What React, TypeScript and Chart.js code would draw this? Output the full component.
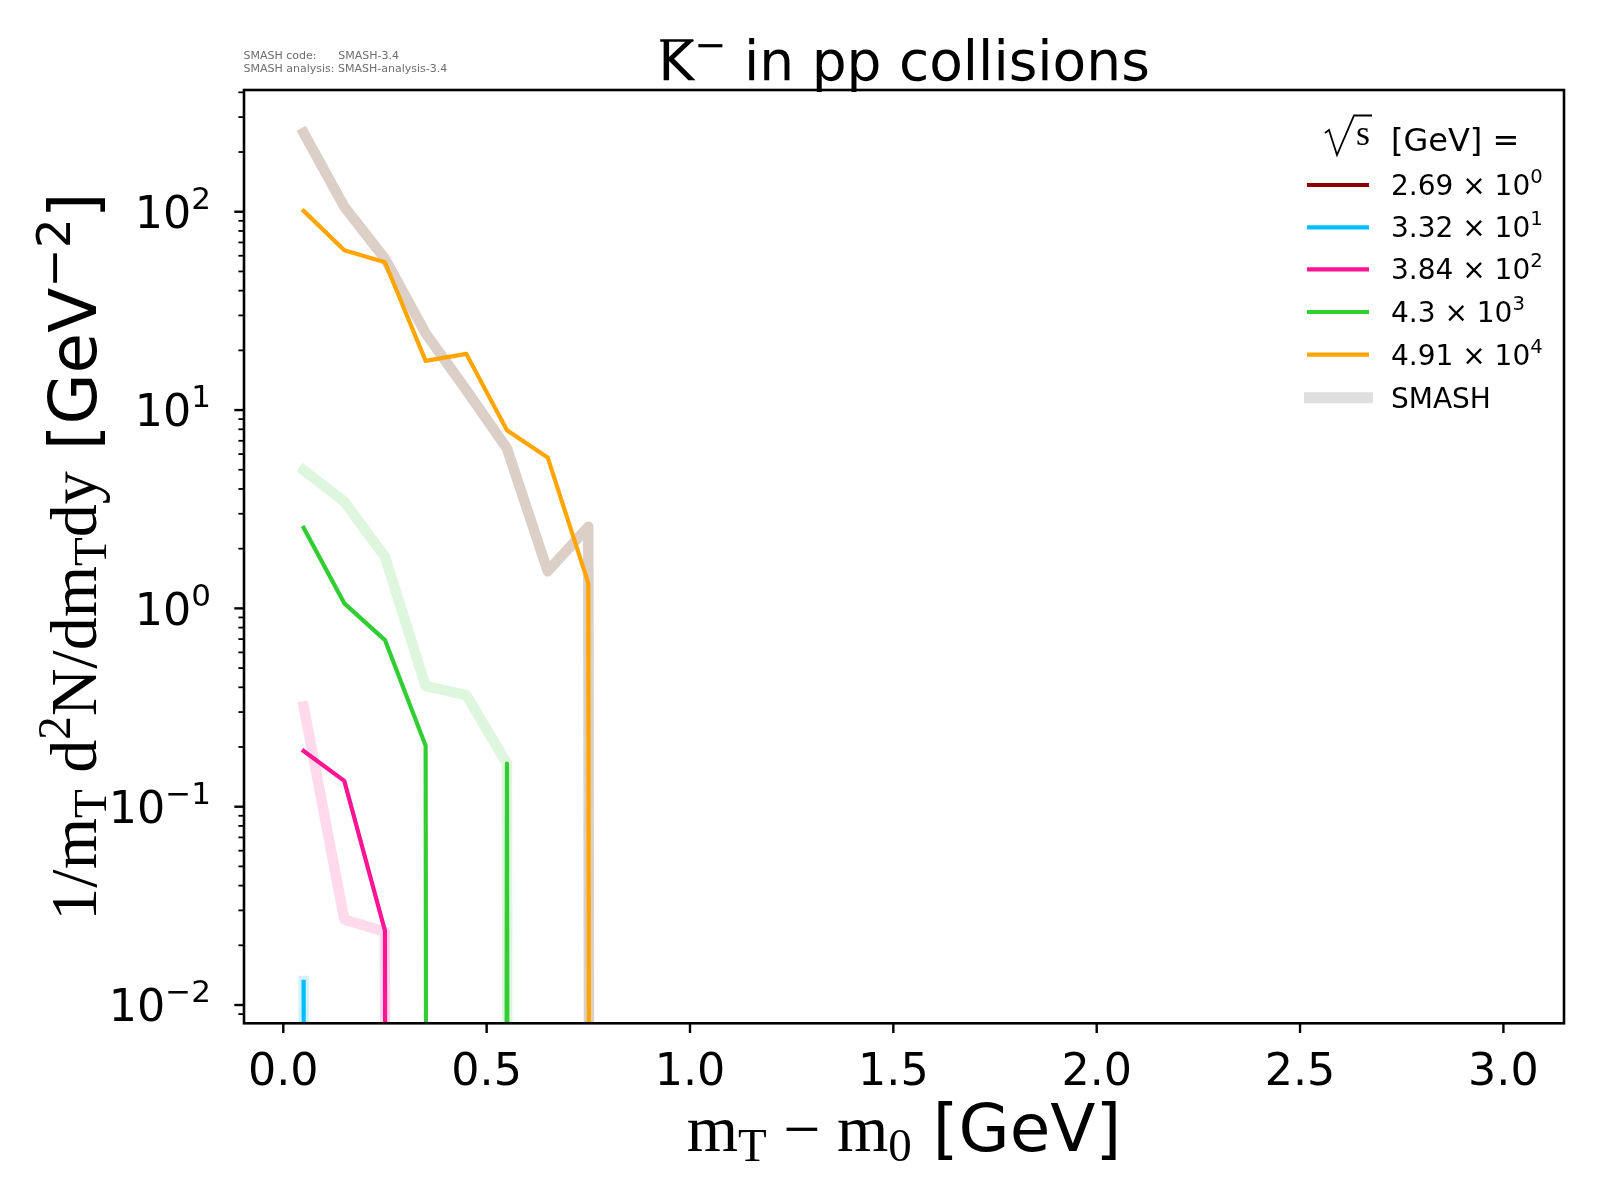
import { useEffect, useRef } from 'react';
import { Chart, registerables } from 'chart.js';

Chart.register(...registerables);

// bin centres of m_T - m_0 [GeV]
const binCenters = [0.05, 0.15, 0.25, 0.35, 0.45, 0.55, 0.65, 0.75, 0.85];

// sqrt(s) [GeV] legend entries, mantissa x 10^exponent
const energyMantissas = ['2.69', '3.32', '3.84', '4.3', '4.91'];
const energyExponents = ['0', '1', '2', '3', '4'];

// measured spectra (0 = empty bin)
const data269 = [0, 0, 0];
const data332 = [0.0131, 0];
const data384 = [0.191, 0.135, 0.0237, 0];
const data430 = [2.55, 1.06, 0.692, 0.203, 0, 0.165, 0];
const data491 = [101, 64, 55.6, 17.7, 19.2, 7.9, 5.77, 1.34, 0];

// SMASH spectra
const smash269 = [0, 0, 0];
const smash332 = [0.0132, 0];
const smash384 = [0.32, 0.027, 0.0234, 0];
const smash430 = [4.98, 3.45, 1.82, 0.405, 0.365, 0.165, 0];
const smash491 = [250, 106, 58, 24.4, 12.6, 6.4, 1.54, 2.58, 0];

const xTicks = [0, 0.5, 1.0, 1.5, 2.0, 2.5, 3.0];
const yDecades = [-2, -1, 0, 1, 2];

const dataColors = ['#8b0000', '#00bfff', '#ff1493', '#32cd32', '#ffa500'];
const smashColors = ['rgba(139,0,0,0.15)', 'rgb(215,241,251)', 'rgb(255,218,236)', 'rgb(222,246,222)', 'rgb(219,207,200)'];

const SANS = '"DejaVu Sans"';
const SERIF = '"Liberation Serif"';
const LOG_FLOOR = 1e-300; // like matplotlib's nonpositive='clip'

type Run = { t: string; font: string; dy?: number };

function runsWidth(ctx: CanvasRenderingContext2D, runs: Run[]) {
  let w = 0;
  for (const r of runs) {
    ctx.font = r.font;
    w += ctx.measureText(r.t).width;
  }
  return w;
}

function drawRuns(ctx: CanvasRenderingContext2D, runs: Run[], x: number, y: number) {
  let cx = x;
  const starts: number[] = [];
  for (const r of runs) {
    ctx.font = r.font;
    starts.push(cx);
    ctx.fillText(r.t, cx, y + (r.dy || 0));
    cx += ctx.measureText(r.t).width;
  }
  starts.push(cx);
  return starts;
}

function series(label: string, values: number[], color: string, width: number, order: number) {
  return {
    label,
    data: values.map((v, i) => ({ x: binCenters[i], y: v > 0 ? v : LOG_FLOOR })),
    borderColor: color,
    borderWidth: width,
    pointRadius: 0,
    tension: 0,
    fill: false,
    borderCapStyle: 'square' as const,
    borderJoinStyle: 'round' as const,
    clip: 0,
    order,
  };
}

const decorations = {
  id: 'decorations',
  beforeDraw(chart: any) {
    const ctx = chart.ctx as CanvasRenderingContext2D;
    ctx.save();
    ctx.fillStyle = '#ffffff';
    ctx.fillRect(0, 0, chart.width, chart.height);
    ctx.restore();
  },
  afterDraw(chart: any) {
    const ctx = chart.ctx as CanvasRenderingContext2D;
    const a = chart.chartArea;
    const xs = chart.scales.x;
    const ys = chart.scales.y;
    ctx.save();
    ctx.fillStyle = '#000';
    ctx.strokeStyle = '#000';
    ctx.textBaseline = 'alphabetic';

    // frame
    ctx.lineWidth = 2.6;
    ctx.strokeRect(a.left, a.top, a.right - a.left, a.bottom - a.top);

    // x ticks + labels
    ctx.lineWidth = 2.4;
    ctx.textAlign = 'center';
    ctx.font = `44.4px ${SANS}`;
    for (const t of xTicks) {
      const px = xs.getPixelForValue(t);
      ctx.beginPath();
      ctx.moveTo(px, a.bottom);
      ctx.lineTo(px, a.bottom + 9.7);
      ctx.stroke();
      ctx.fillText(t.toFixed(1), px, 1084.5);
    }

    // y ticks (major + minor) + labels
    ctx.textAlign = 'left';
    for (let e = -3; e <= 2; e++) {
      for (let m = 1; m <= 9; m++) {
        const v = m * Math.pow(10, e);
        if (v < ys.min || v > ys.max) continue;
        const py = ys.getPixelForValue(v);
        ctx.lineWidth = m === 1 ? 2.4 : 1.8;
        ctx.beginPath();
        ctx.moveTo(a.left, py);
        ctx.lineTo(a.left - (m === 1 ? 9.7 : 5.6), py);
        ctx.stroke();
      }
    }
    for (const e of yDecades) {
      const py = ys.getPixelForValue(Math.pow(10, e));
      const runs: Run[] = [
        { t: '10', font: `44.4px ${SANS}` },
        { t: e < 0 ? '−' + Math.abs(e) : String(e), font: `31px ${SANS}`, dy: -19 },
      ];
      const w = runsWidth(ctx, runs);
      drawRuns(ctx, runs, 211 - w, py + 16.3);
    }

    // title
    const titleRuns: Run[] = [
      { t: 'K', font: `55px ${SANS}` },
      { t: '−', font: `38.5px ${SANS}`, dy: -22 },
      { t: ' in pp collisions', font: `55px ${SANS}` },
    ];
    const tw = runsWidth(ctx, titleRuns);
    const ts = drawRuns(ctx, titleRuns, (a.left + a.right) / 2 - tw / 2, 80);
    ctx.lineWidth = 2.3;
    ctx.beginPath();
    ctx.moveTo(ts[0] + 2, 40.5);
    ctx.lineTo(ts[1] - 1, 40.5);
    ctx.stroke();

    // SMASH version info
    ctx.fillStyle = '#6e6e6e';
    ctx.font = `11px ${SANS}`;
    ctx.fillText('SMASH code:', 243.5, 58.5);
    ctx.fillText('SMASH-3.4', 338.3, 58.5);
    ctx.fillText('SMASH analysis: SMASH-analysis-3.4', 243.5, 72);
    ctx.fillStyle = '#000';

    // x axis title
    const big = 66;
    const small = 47;
    const xRuns: Run[] = [
      { t: 'm', font: `${big}px ${SERIF}` },
      { t: 'T', font: `${small}px ${SERIF}`, dy: 10 },
      { t: ' − ', font: `${big}px ${SERIF}` },
      { t: 'm', font: `${big}px ${SERIF}` },
      { t: '0', font: `${small}px ${SERIF}`, dy: 10 },
      { t: ' [GeV]', font: `${big}px ${SANS}` },
    ];
    const xw = runsWidth(ctx, xRuns);
    drawRuns(ctx, xRuns, (a.left + a.right) / 2 - xw / 2, 1151);

    // y axis title
    const yRuns: Run[] = [
      { t: '1/m', font: `${big}px ${SERIF}` },
      { t: 'T', font: `${small}px ${SERIF}`, dy: 10 },
      { t: ' d', font: `${big}px ${SERIF}` },
      { t: '2', font: `${small}px ${SERIF}`, dy: -26 },
      { t: 'N/dm', font: `${big}px ${SERIF}` },
      { t: 'T', font: `${small}px ${SERIF}`, dy: 10 },
      { t: 'dy', font: `${big}px ${SERIF}` },
      { t: ' [GeV', font: `${big}px ${SANS}` },
      { t: '−2', font: `${small}px ${SANS}`, dy: -26 },
      { t: ']', font: `${big}px ${SANS}` },
    ];
    const yw = runsWidth(ctx, yRuns);
    ctx.save();
    ctx.translate(96, (a.top + a.bottom) / 2);
    ctx.rotate(-Math.PI / 2);
    drawRuns(ctx, yRuns, -yw / 2, 0);
    ctx.restore();

    // legend title: sqrt(s) [GeV] =
    ctx.lineWidth = 1.8;
    ctx.lineJoin = 'miter';
    ctx.beginPath();
    ctx.moveTo(1325, 133);
    ctx.lineTo(1329, 130);
    ctx.lineTo(1337, 155);
    ctx.lineTo(1354, 115.5);
    ctx.lineTo(1372, 115.5);
    ctx.stroke();
    ctx.font = `36px ${SERIF}`;
    ctx.fillText('s', 1356, 145);
    ctx.font = `32px ${SANS}`;
    ctx.fillText('[GeV] =', 1391, 150.5);

    // legend entries
    const rowY = [185, 227.3, 269.3, 312, 354.7];
    ctx.lineCap = 'butt';
    energyMantissas.forEach((mant, i) => {
      const cy = rowY[i];
      ctx.strokeStyle = dataColors[i];
      ctx.lineWidth = 4.2;
      ctx.beginPath();
      ctx.moveTo(1307, cy);
      ctx.lineTo(1369, cy);
      ctx.stroke();
      ctx.fillStyle = '#000';
      drawRuns(ctx, [
        { t: mant + ' × 10', font: `28px ${SANS}` },
        { t: energyExponents[i], font: `19.6px ${SANS}`, dy: -12 },
      ], 1391, cy + 10);
    });
    ctx.strokeStyle = '#dfdfdf';
    ctx.lineWidth = 11;
    ctx.beginPath();
    ctx.moveTo(1304, 397.7);
    ctx.lineTo(1373, 397.7);
    ctx.stroke();
    ctx.fillStyle = '#000';
    ctx.font = `28px ${SANS}`;
    ctx.fillText('SMASH', 1391, 407.7);

    ctx.restore();
  },
};

export default function App() {
  const canvasRef = useRef<HTMLCanvasElement>(null);

  useEffect(() => {
    document.body.style.margin = '0';
    if (!canvasRef.current) return;
    const ctx = canvasRef.current.getContext('2d');
    if (!ctx) return;

    const dataSets = [data269, data332, data384, data430, data491];
    const smashSets = [smash269, smash332, smash384, smash430, smash491];

    const datasets: any[] = [];
    smashSets.forEach((s, i) => datasets.push(series('SMASH', s, smashColors[i], 10.5, 2)));
    dataSets.forEach((d, i) => datasets.push(series(energyMantissas[i], d, dataColors[i], 4.2, 1)));

    const chart = new Chart(ctx, {
      type: 'line',
      data: { datasets },
      options: {
        animation: false,
        responsive: false,
        devicePixelRatio: 1,
        layout: { padding: { top: 90, right: 36, left: 0, bottom: 0 } },
        plugins: {
          legend: { display: false },
          tooltip: { enabled: false },
          title: { display: false },
        },
        events: [],
        scales: {
          x: {
            type: 'linear',
            min: -0.0966,
            max: 3.149,
            grid: { display: false },
            border: { display: false },
            ticks: { display: false },
            afterFit: (scale: any) => { scale.height = 176.7; },
          },
          y: {
            type: 'logarithmic',
            min: 0.008087,
            max: 411,
            grid: { display: false },
            border: { display: false },
            ticks: { display: false },
            afterFit: (scale: any) => { scale.width = 244; },
          },
        },
      },
      plugins: [decorations],
    });

    return () => chart.destroy();
  }, []);

  return (
    <div style={{ width: 1600, height: 1200 }}>
      <canvas ref={canvasRef} width={1600} height={1200}></canvas>
    </div>
  );
}
